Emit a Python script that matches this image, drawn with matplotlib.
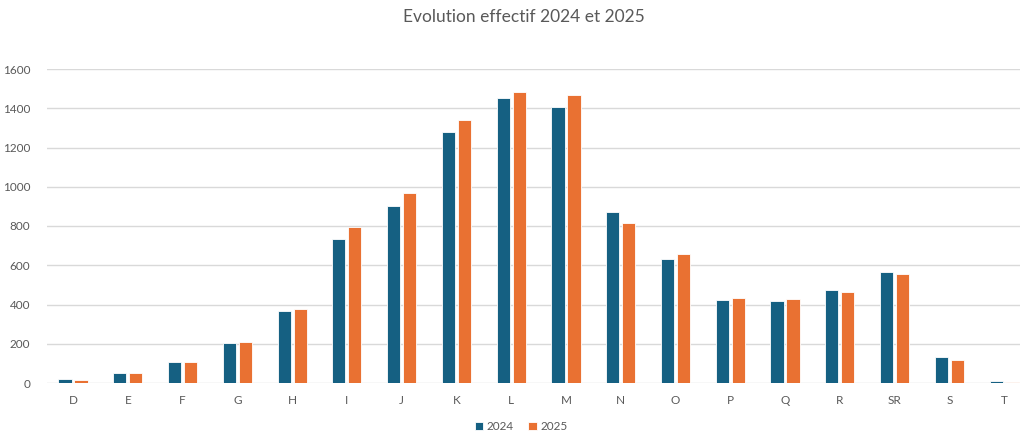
import matplotlib.pyplot as plt
import numpy as np

plt.rcParams["font.family"] = ["Lato", "DejaVu Sans"]

categories = ["D", "E", "F", "G", "H", "I", "J", "K", "L", "M",
              "N", "O", "P", "Q", "R", "SR", "S", "T"]
effectif_2024 = [20, 52, 105, 205, 367, 734, 902, 1278, 1452, 1405,
                 871, 632, 423, 420, 474, 566, 134, 8]
effectif_2025 = [15, 53, 109, 211, 377, 795, 968, 1340, 1483, 1466,
                 815, 657, 433, 430, 464, 556, 117, 5]

bleu = "#156082"
orange = "#E97132"
gris = "#595959"

fig = plt.figure(figsize=(10.22, 4.34), dpi=100)
ax = fig.add_axes([47 / 1022, 51 / 434, 973 / 1022, 314 / 434])

x = np.arange(len(categories))
w = 0.24
ax.bar(x - 0.146, effectif_2024, w, color=bleu, edgecolor="white",
       linewidth=0.6, label="2024", zorder=3)
ax.bar(x + 0.146, effectif_2025, w, color=orange, edgecolor="white",
       linewidth=0.6, label="2025", zorder=3)

ax.set_xlim(-0.475, 17.29)
ax.set_ylim(0, 1600)
ax.set_yticks(range(0, 1601, 200))
ax.set_xticks(x, categories)

ax.grid(axis="y", color="#d9d9d9", linewidth=1, zorder=0)
for s in ax.spines.values():
    s.set_visible(False)
ax.tick_params(axis="both", length=0, labelsize=8.5, labelcolor=gris)
ax.tick_params(axis="x", pad=9)
ax.tick_params(axis="y", pad=12)

fig.text(0.513, 0.96, "Evolution effectif 2024 et 2025", ha="center",
         va="center", fontsize=12.5, color=gris)

fig.legend(loc="center", bbox_to_anchor=(0.51, 0.017), ncol=2, frameon=False,
           fontsize=8.5, labelcolor=gris, handlelength=0.7, handleheight=0.7,
           handletextpad=0.3, columnspacing=1.2)

fig.savefig("out.png", dpi=100)
